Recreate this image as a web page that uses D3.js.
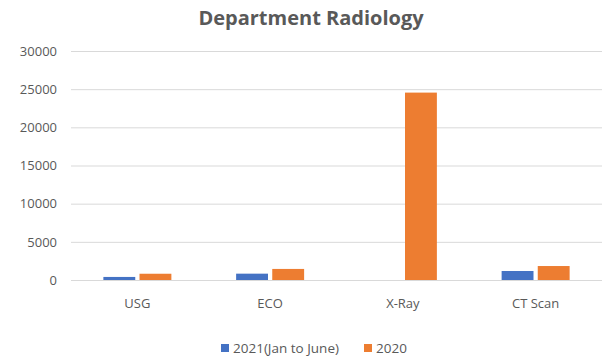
<!DOCTYPE html>
<html><head><meta charset="utf-8">
<script src="https://cdn.jsdelivr.net/npm/d3@7"></script>
<style>body{margin:0;background:#fff}svg{display:block}text{font-family:"Open Sans","Liberation Sans",sans-serif}</style>
</head><body><svg id="c" width="614" height="364"></svg>
<script>
const categories = ["USG", "ECO", "X-Ray", "CT Scan"];
const seriesNames = ["2021(Jan to June)", "2020"];
const values2021 = [400, 830, 0, 1180];
const values2020 = [820, 1450, 24550, 1830];
const yTicks = [0, 5000, 10000, 15000, 20000, 25000, 30000];
const colors = ["#4472C4", "#ED7D31"];

(function () {
const svg = d3.select("#c");
const mLeft = 71, mRight = 602, mTop = 51, mBottom = 280;
const x = d3.scaleBand().domain(categories).range([mLeft, mRight]);
const y = d3.scaleLinear().domain([0, 30000]).range([mBottom, mTop]);
const x1 = d3.scaleBand().domain(seriesNames).range([0, 68]).paddingInner(8/68);

svg.append("text").attr("x", 311).attr("y", 25).attr("text-anchor", "middle")
  .attr("font-size", 20).attr("font-weight", "bold").attr("fill", "#595959").text("Department Radiology");

const yAxis = svg.append("g").attr("transform", `translate(${mLeft},0)`)
  .call(d3.axisLeft(y).tickValues(yTicks).tickSize(-(mRight-mLeft)).tickPadding(14).tickFormat(d3.format("d")));
yAxis.select(".domain").remove();
yAxis.selectAll(".tick line").attr("stroke", "#d9d9d9");
yAxis.selectAll(".tick text").attr("fill", "#595959").attr("font-size", 13);

const xAxis = svg.append("g").attr("transform", `translate(0,${mBottom})`)
  .call(d3.axisBottom(x).tickSize(0).tickPadding(19));
xAxis.select(".domain").remove();
xAxis.selectAll(".tick text").attr("fill", "#595959").attr("font-size", 13);

const data = [values2021, values2020];
const groups = svg.append("g");
categories.forEach((c, i) => {
  const gx = x(c) + x.bandwidth()/2 - 34;
  seriesNames.forEach((s, j) => {
    const v = data[j][i];
    groups.append("rect").attr("x", gx + x1(s)).attr("width", x1.bandwidth())
      .attr("y", y(v)).attr("height", mBottom - y(v)).attr("fill", colors[j]);
  });
});

const legend = svg.append("g");
const lx = [221, 364];
seriesNames.forEach((s, j) => {
  legend.append("rect").attr("x", lx[j]).attr("y", 344).attr("width", 8).attr("height", 8).attr("fill", colors[j]);
  legend.append("text").attr("x", lx[j] + 12).attr("y", 353).attr("font-size", 13.5).attr("fill", "#595959").text(s);
});
})();
</script></body></html>
